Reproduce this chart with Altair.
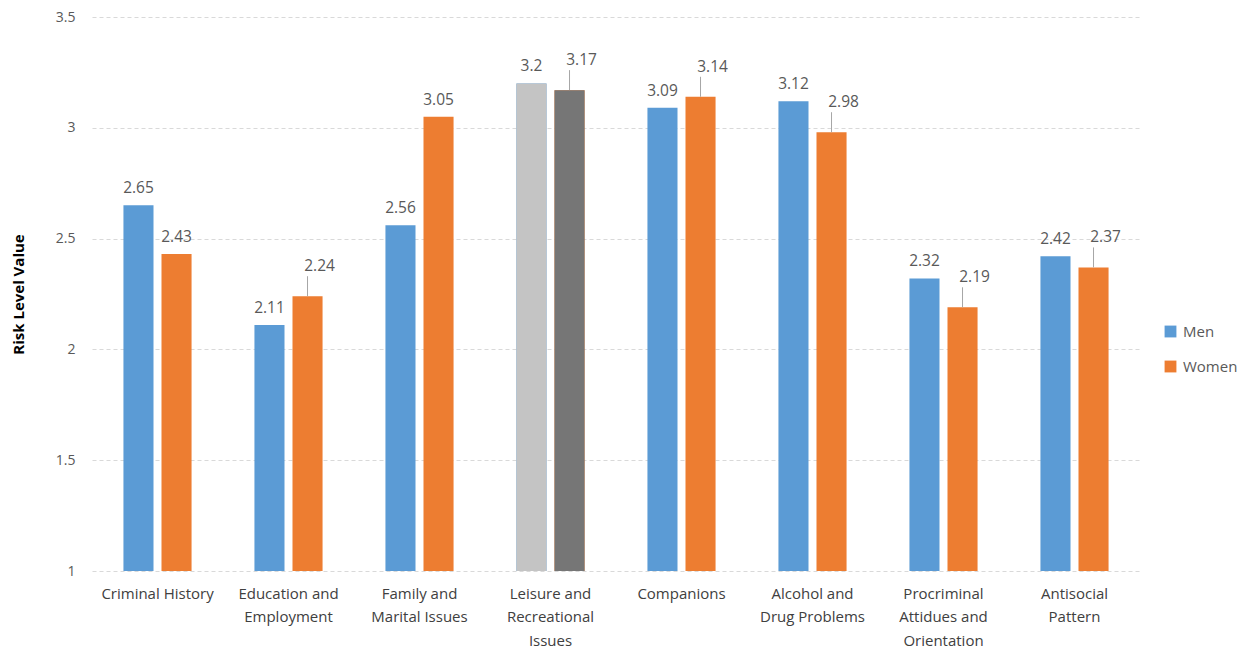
import altair as alt
import pandas as pd

categories = ["Criminal History", "Education and Employment", "Family and Marital Issues",
              "Leisure and Recreational Issues", "Companions", "Alcohol and Drug Problems",
              "Procriminal Attidues and Orientation", "Antisocial Pattern"]
label_lines = [["Criminal History"], ["Education and", "Employment"], ["Family and", "Marital Issues"],
               ["Leisure and", "Recreational", "Issues"], ["Companions"], ["Alcohol and", "Drug Problems"],
               ["Procriminal", "Attidues and", "Orientation"], ["Antisocial", "Pattern"]]
series = ["Men", "Women"]
men = [2.65, 2.11, 2.56, 3.2, 3.09, 3.12, 2.32, 2.42]
women = [2.43, 2.24, 3.05, 3.17, 3.14, 2.98, 2.19, 2.37]
y_ticks = [1, 1.5, 2, 2.5, 3, 3.5]

# categories whose Women label is lifted with a leader line (style)
lifted = ["Education and Employment", "Leisure and Recreational Issues", "Companions",
          "Alcohol and Drug Problems", "Procriminal Attidues and Orientation", "Antisocial Pattern"]
highlight = "Leisure and Recreational Issues"

rows = []
for c, m, w in zip(categories, men, women):
    rows.append({"category": c, "series": "Men", "value": m, "label": f"{m:g}"})
    rows.append({"category": c, "series": "Women", "value": w, "label": f"{w:g}"})
df = pd.DataFrame(rows)

font = "Open Sans"
lbl_expr = "{" + ",".join("'%s':[%s]" % (c, ",".join("'%s'" % l for l in ls))
                          for c, ls in zip(categories, label_lines)) + "}[datum.value]"

x = alt.X("category:N", sort=categories, title=None,
          scale=alt.Scale(paddingInner=0.48, paddingOuter=0.24),
          axis=alt.Axis(labelAngle=0, labelExpr=lbl_expr, labelFont=font, labelFontSize=15,
                        labelColor="#404040", labelLineHeight=23.5, labelPadding=15,
                        ticks=False, domain=False, grid=False, labelLimit=200))
xo = alt.XOffset("series:N", sort=series, scale=alt.Scale(paddingInner=0.21))
y = alt.Y("value:Q", title="Risk Level Value",
          scale=alt.Scale(domain=[1, 3.5], zero=False, nice=False),
          axis=alt.Axis(values=y_ticks, format="~g", labelFont=font, labelFontSize=14,
                        labelColor="#595959", labelPadding=17, ticks=False, domain=False,
                        grid=True, gridColor="#d9d9d9", gridDash=[4, 3], gridWidth=1,
                        titleFont=font, titleFontSize=15, titleFontWeight="bold",
                        titleColor="#000000", titlePadding=29))

base = alt.Chart(df)

bars = base.mark_bar().encode(
    x=x, xOffset=xo, y=y, y2=alt.datum(1),
    color=alt.Color("series:N", sort=series,
                    scale=alt.Scale(domain=series, range=["#5B9BD5", "#ED7D31"]),
                    legend=alt.Legend(title=None, orient="none", legendX=1071, legendY=307,
                                      symbolType="square", symbolSize=140, labelFont=font,
                                      labelFontSize=15, labelColor="#595959", rowPadding=19,
                                      symbolStrokeWidth=0, labelOffset=5)),
)

gray = base.transform_filter(alt.datum.category == highlight).transform_calculate(
    gfill="datum.series == 'Men' ? '#C4C4C4' : '#767676'"
).mark_bar().encode(
    x=x, xOffset=xo, y=y, y2=alt.datum(1),
    fill=alt.Fill("gfill:N", scale=None),
)

is_lifted = alt.FieldOneOfPredicate(field="category", oneOf=lifted)

normal_text = base.transform_filter(
    ~(is_lifted & (alt.datum.series == "Women"))
).mark_text(baseline="bottom", dy=-9, font=font, fontSize=15.5, color="#595959").encode(
    x=x, xOffset=xo, y=y, text="label:N")

lifted_text = base.transform_filter(
    is_lifted & (alt.datum.series == "Women")
).mark_text(baseline="bottom", dy=-22, dx=12, font=font, fontSize=15.5, color="#595959").encode(
    x=x, xOffset=xo, y=y, text="label:N")

leaders = base.transform_filter(
    is_lifted & (alt.datum.series == "Women")
).mark_rule(color="#a6a6a6", strokeWidth=1, y2Offset=-20).encode(
    x=x, xOffset=xo, y=y, y2="value:Q")

chart = alt.layer(bars, gray, leaders, normal_text, lifted_text).properties(
    width=1048, height=554, padding={"left": 3, "top": 2, "right": 0, "bottom": 0}
).configure(background="white").configure_view(stroke=None)

chart.save("out.html", embed_options={"renderer": "svg", "actions": False})
